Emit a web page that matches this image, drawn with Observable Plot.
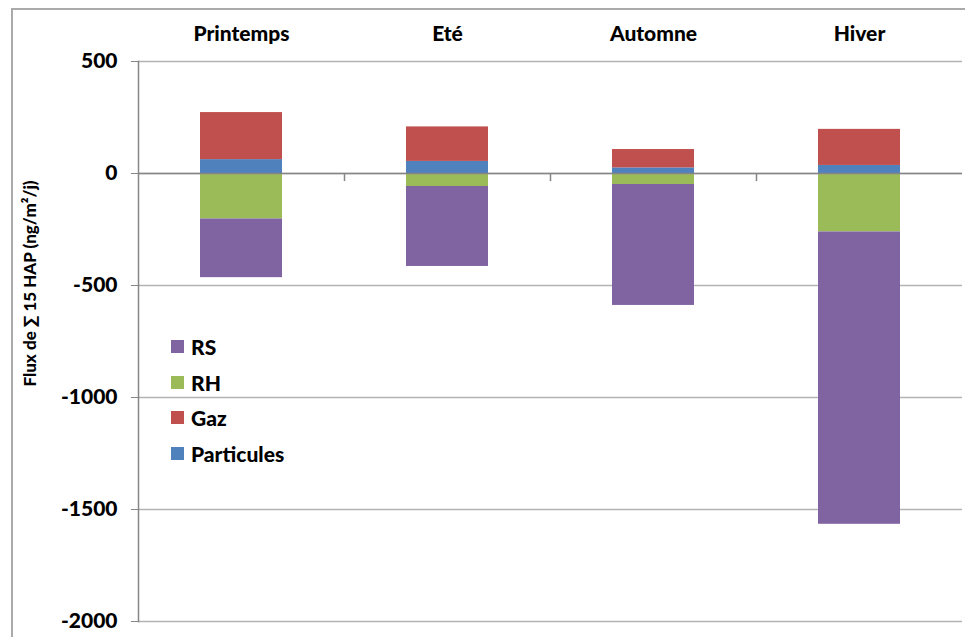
<!DOCTYPE html>
<html>
<head>
<meta charset="utf-8">
<script src="https://cdn.jsdelivr.net/npm/d3@7"></script>
<script src="https://cdn.jsdelivr.net/npm/@observablehq/plot@0.6"></script>
<style>
  html, body { margin: 0; padding: 0; background: #fff; }
  #wrap { position: relative; width: 965px; height: 637px; overflow: hidden; font-family: Lato, "Open Sans", sans-serif; }
  #border { position: absolute; left: 11px; top: 8px; width: 2000px; height: 2000px; border-left: 2px solid #aaaaaa; border-top: 2px solid #aaaaaa; box-sizing: border-box; pointer-events: none; }
  #legend { position: absolute; left: 171px; top: 329px; font-weight: 900; font-size: 21px; color: #000; }
  #legend .row { display: flex; align-items: center; height: 35.5px; }
  #legend .sw { width: 13px; height: 13px; margin-right: 7px; }
  svg { position: absolute; left: 0; top: 0; }
</style>
</head>
<body>
<div id="wrap"><div id="border"></div></div>
<script>
const seasons = ["Printemps", "Eté", "Automne", "Hiver"];
const seriesNames = ["RS", "RH", "Gaz", "Particules"];
const seriesColors = ["#8064A2", "#9BBB59", "#C0504D", "#4F81BD"];
const particules = [62, 54, 25, 36];
const gaz = [210, 154, 82, 161];
const rh = [-203, -58, -49, -261];
const rs = [-262, -357, -540, -1305];
const yTicks = [500, 0, -500, -1000, -1500, -2000];
const yTitle = "Flux de \u2211 15 HAP (ng/m\u00B2/j)";

// stacking order: nearest zero first
const table = [];
seasons.forEach((s, i) => {
  table.push({season: s, series: "Particules", value: particules[i]});
  table.push({season: s, series: "Gaz", value: gaz[i]});
  table.push({season: s, series: "RH", value: rh[i]});
  table.push({season: s, series: "RS", value: rs[i]});
});

const chart = Plot.plot({
  width: 965,
  height: 637,
  marginLeft: 138,
  marginRight: 3,
  marginTop: 61,
  marginBottom: 16,
  style: {fontFamily: "Lato, 'Open Sans', sans-serif", fontWeight: "900", fontSize: "20px", color: "#000", background: "transparent", overflow: "visible"},
  x: {domain: seasons, paddingInner: 0.6, paddingOuter: 0.3, axis: null},
  y: {domain: [-2000, 500], axis: null},
  color: {domain: seriesNames, range: seriesColors},
  marks: [
    Plot.gridY(yTicks, {stroke: "#b3b3b3", strokeOpacity: 1, strokeWidth: 1.3}),
    Plot.axisY(yTicks, {tickSize: 7, tickPadding: 14, stroke: "#868686", fontSize: 21, fontWeight: "900", fill: "#000", label: null, tickFormat: d => d < 0 ? "-" + Math.abs(d) : String(d)}),
    Plot.axisX(seasons, {anchor: "top", tickSize: 0, tickPadding: 21, fontSize: 21, fontWeight: "900", fill: "#000", label: null}),
    Plot.barY(table, {x: "season", y: "value", fill: "series", order: ["Particules", "Gaz", "RH", "RS"]}),
    Plot.ruleY([0], {stroke: "#868686", strokeWidth: 1.5}),
    Plot.ruleX(seasons.slice(0, 3), {x: d => d, y1: 0, y2: -36, dx: 103, stroke: "#868686", strokeWidth: 1.5}),
    Plot.frame({anchor: "left", stroke: "#868686", strokeWidth: 1.5}),
    Plot.text([yTitle], {frameAnchor: "left", textAnchor: "middle", rotate: -90, dx: -108, dy: -58, fontSize: 17, fontWeight: "900", fill: "#000"})
  ]
});
document.getElementById("wrap").appendChild(chart);

const legend = document.createElement("div");
legend.id = "legend";
seriesNames.forEach((n, i) => {
  const row = document.createElement("div");
  row.className = "row";
  const sw = document.createElement("div");
  sw.className = "sw";
  sw.style.background = seriesColors[i];
  const t = document.createElement("span");
  t.textContent = n;
  row.appendChild(sw);
  row.appendChild(t);
  legend.appendChild(row);
});
document.getElementById("wrap").appendChild(legend);
</script>
</body>
</html>
